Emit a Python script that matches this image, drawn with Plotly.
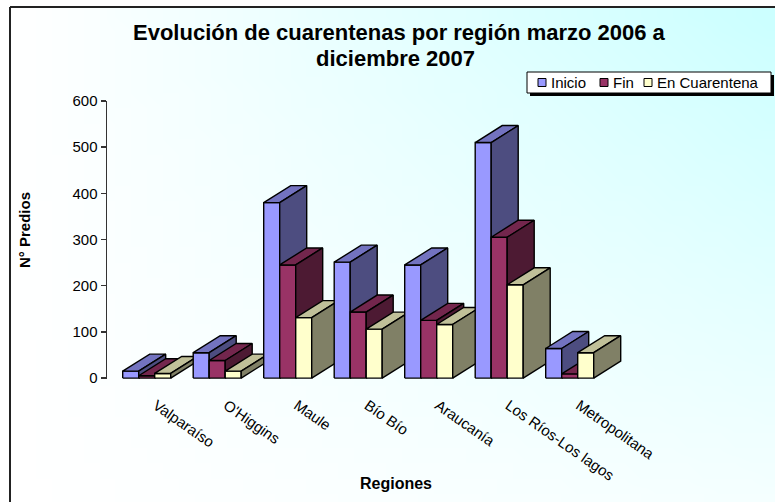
import base64
import struct
import zlib

import plotly.graph_objects as go

# ---------------- data ----------------
regions = ["Valparaíso", "O'Higgins", "Maule", "Bío Bío", "Araucanía",
           "Los Ríos-Los lagos", "Metropolitana"]
inicio = [15, 55, 380, 251, 245, 510, 64]
fin = [5, 38, 245, 143, 125, 305, 9]
en_cuarentena = [10, 15, 131, 106, 116, 202, 55]
series_names = ["Inicio", "Fin", "En Cuarentena"]
y_ticks = [0, 100, 200, 300, 400, 500, 600]

title_line1 = "<b>Evolución de cuarentenas por región marzo 2006 a</b>"
title_line2 = "<b>diciembre 2007</b>"
y_title = "<b>N° Predios</b>"
x_title = "<b>Regiones</b>"

# ---------------- style ----------------
FONT = "Liberation Sans, Arial, sans-serif"
# (front, top, side) colours per series
face_colors = [
    ("#9999FF", "#7373C0", "#4D4D80"),
    ("#993366", "#73264D", "#4D1A33"),
    ("#FFFFCC", "#C0C099", "#808066"),
]

SCREEN_W, SCREEN_H = 775, 502
OFF = 0                              # body margin removed by post_script
FIG_W, FIG_H = SCREEN_W - OFF, SCREEN_H - OFF
L, R = 107, 657                      # plot area, screen px
T, B = 101, 379
Y_RANGE = [-2, 600]
GROUP_PX = 70.5                      # px between categories
X0_PX = 146.7                        # px of first group centre
X_MIN = (L - X0_PX) / GROUP_PX
X_MAX = X_MIN + (R - L) / GROUP_PX
BAR_W = 16 / GROUP_PX                # bar width in category units
DEPTH_X = 27 / GROUP_PX              # depth offset (x units)
PX_PER_VAL = (B - T) / (Y_RANGE[1] - Y_RANGE[0])
DEPTH_Y = 17 / PX_PER_VAL            # depth offset (value units)

LABEL0_PX = 156.0                    # px of first category label tick
X2_MIN = -(LABEL0_PX - L) / GROUP_PX
X2_MAX = X2_MIN + (R - L) / GROUP_PX


def px_x(px):
    return (px - L) / (R - L)


def px_y(py):
    return (B - py) / (B - T)


# ---------------- background gradient ----------------
def gradient_png(w, h):
    raw = bytearray()
    for j in range(h):
        raw.append(0)
        fy = j / (h - 1)
        for i in range(w):
            fx = i / (w - 1)
            f = fx * (1 - 0.8 * fy)
            f = max(0.0, min(1.0, f))
            r = int(round(255 - (255 - 204) * f))
            raw.extend((r, 255, 255))

    def chunk(t, d):
        c = struct.pack(">I", len(d)) + t + d
        return c + struct.pack(">I", zlib.crc32(t + d) & 0xFFFFFFFF)

    png = (b"\x89PNG\r\n\x1a\n"
           + chunk(b"IHDR", struct.pack(">IIBBBBB", w, h, 8, 2, 0, 0, 0))
           + chunk(b"IDAT", zlib.compress(bytes(raw)))
           + chunk(b"IEND", b""))
    return "data:image/png;base64," + base64.b64encode(png).decode()


fig = go.Figure()

# ---------------- 3D bars ----------------
all_series = [inicio, fin, en_cuarentena]
for gi in range(len(regions)):
    for si, vals in enumerate(all_series):
        v = vals[gi]
        a = gi - 1.5 * BAR_W + si * BAR_W
        b = a + BAR_W
        front_c, top_c, side_c = face_colors[si]
        faces = [
            ([a, b, b, a, a], [0, 0, v, v, 0], front_c),
            ([a, b, b + DEPTH_X, a + DEPTH_X, a],
             [v, v, v + DEPTH_Y, v + DEPTH_Y, v], top_c),
            ([b, b + DEPTH_X, b + DEPTH_X, b, b],
             [0, DEPTH_Y, v + DEPTH_Y, v, 0], side_c),
        ]
        for xs, ys, col in faces:
            fig.add_trace(go.Scatter(
                x=xs, y=ys, mode="lines", fill="toself", fillcolor=col,
                line=dict(color="#000000", width=1.4),
                hoverinfo="skip", showlegend=False, xaxis="x", yaxis="y"))

# invisible trace to activate the category label axis
fig.add_trace(go.Scatter(x=list(range(len(regions))), y=[None] * len(regions),
                         xaxis="x2", yaxis="y", showlegend=False,
                         hoverinfo="skip", mode="markers"))

# ---------------- shapes: frame and legend ----------------
shapes = [
    dict(type="line", xref="paper", yref="paper",
         x0=px_x(10), x1=px_x(SCREEN_W + 5), y0=px_y(7), y1=px_y(7),
         line=dict(color="#222222", width=2)),
    dict(type="line", xref="paper", yref="paper",
         x0=px_x(10), x1=px_x(10), y0=px_y(7), y1=px_y(SCREEN_H + 5),
         line=dict(color="#222222", width=2)),
    # legend shadow + box
    dict(type="rect", xref="paper", yref="paper",
         x0=px_x(530), x1=px_x(774), y0=px_y(75), y1=px_y(96),
         fillcolor="#000000", line=dict(width=0)),
    dict(type="rect", xref="paper", yref="paper",
         x0=px_x(527), x1=px_x(771), y0=px_y(72), y1=px_y(93),
         fillcolor="#FFFFFF", line=dict(color="#000000", width=1)),
]
annotations = []
legend_sq_px = [538, 600, 644]
legend_txt_px = [549, 611, 655]
for si, name in enumerate(series_names):
    sx = legend_sq_px[si]
    shapes.append(dict(type="rect", xref="paper", yref="paper",
                       x0=px_x(sx), x1=px_x(sx + 8),
                       y0=px_y(78.5), y1=px_y(86.5),
                       fillcolor=face_colors[si][0],
                       line=dict(color="#000000", width=1)))
    annotations.append(dict(text=name, xref="paper", yref="paper",
                            x=px_x(legend_txt_px[si]), y=px_y(82.5),
                            xanchor="left", yanchor="middle", showarrow=False,
                            font=dict(family=FONT, size=15, color="#000000")))

annotations += [
    dict(text=title_line1, xref="paper", yref="paper",
         x=px_x(399), y=px_y(33), xanchor="center", yanchor="middle",
         showarrow=False, font=dict(family=FONT, size=22, color="#000000")),
    dict(text=title_line2, xref="paper", yref="paper",
         x=px_x(395), y=px_y(58), xanchor="center", yanchor="middle",
         showarrow=False, font=dict(family=FONT, size=22, color="#000000")),
    dict(text=y_title, xref="paper", yref="paper",
         x=px_x(24), y=px_y(230), textangle=-90,
         xanchor="center", yanchor="middle", showarrow=False,
         font=dict(family=FONT, size=15, color="#000000")),
    dict(text=x_title, xref="paper", yref="paper",
         x=px_x(396), y=px_y(484),
         xanchor="center", yanchor="middle", showarrow=False,
         font=dict(family=FONT, size=16, color="#000000")),
]

fig.update_layout(
    width=FIG_W, height=FIG_H,
    margin=dict(l=L - OFF, r=SCREEN_W - R, t=T - OFF, b=SCREEN_H - B, pad=0),
    paper_bgcolor="#FFFFFF",
    plot_bgcolor="rgba(0,0,0,0)",
    showlegend=False,
    hovermode=False,
    xaxis=dict(range=[X_MIN, X_MAX], visible=False, fixedrange=True),
    xaxis2=dict(range=[X2_MIN, X2_MAX], overlaying="x", anchor="y",
                side="bottom", tickmode="array",
                tickvals=list(range(len(regions))), ticktext=regions,
                tickangle=35, showline=False, showgrid=False, zeroline=False,
                ticks="", ticklabelstandoff=14,
                tickfont=dict(family=FONT, size=15, color="#000000")),
    yaxis=dict(range=Y_RANGE, tickmode="array", tickvals=y_ticks,
               ticks="outside", ticklen=5, tickcolor="#333333", tickwidth=1.5,
               showline=True, linecolor="#333333", linewidth=1.5,
               showgrid=False, zeroline=False,
               tickfont=dict(family=FONT, size=15, color="#000000")),
    shapes=shapes,
    annotations=annotations,
    images=[dict(source=gradient_png(48, 32), xref="paper", yref="paper",
                 x=px_x(11), y=px_y(8), sizex=(SCREEN_W - 11) / (R - L),
                 sizey=(SCREEN_H - 8) / (B - T), xanchor="left", yanchor="top",
                 sizing="stretch", layer="below")],
)

fig.write_html("out.html",
               config={"displayModeBar": False, "staticPlot": True},
               post_script="document.body.style.margin='0';"
                           "document.body.style.overflow='hidden';")
